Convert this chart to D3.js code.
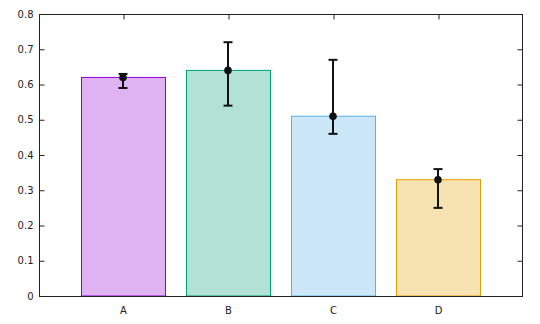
<!DOCTYPE html>
<html>
<head>
<meta charset="utf-8">
<script src="https://cdn.jsdelivr.net/npm/d3@7"></script>
<style>
  html, body { margin: 0; padding: 0; background: #fff; }
  svg { display: block; }
  text { font-family: "DejaVu Sans", sans-serif; font-size: 10px; fill: #222; }
</style>
</head>
<body>
<svg id="chart" width="540" height="324"></svg>
<script>
// Bar heights with the measured point and its error range
const categories = ["A", "B", "C", "D"];
const values = [0.62, 0.64, 0.51, 0.33];
const errLow = [0.59, 0.54, 0.46, 0.25];
const errHigh = [0.63, 0.72, 0.67, 0.36];
const colors = ["#9400d3", "#009e73", "#56b4e9", "#e69f00"];
const yTicks = [0, 0.1, 0.2, 0.3, 0.4, 0.5, 0.6, 0.7, 0.8];

const svg = d3.select("#chart");
const plotLeft = 39, plotRight = 522, plotTop = 14, plotBottom = 296;

// Category index -> pixel, with 0.8 units of padding on each side
const x = d3.scaleLinear().domain([-0.8, categories.length - 0.2]).range([plotLeft, plotRight]);
const y = d3.scaleLinear().domain([0, 0.8]).range([plotBottom, plotTop]);
const barW = x(0.4) - x(-0.4);

// Bars: translucent fill with solid outline
svg.append("g").selectAll("rect")
  .data(values)
  .join("rect")
  .attr("x", (d, i) => x(i) - barW / 2 + 0.5)
  .attr("y", d => y(d))
  .attr("width", barW)
  .attr("height", d => y(0) - y(d))
  .attr("fill", (d, i) => colors[i])
  .attr("fill-opacity", 0.3)
  .attr("stroke", (d, i) => colors[i])
  .attr("stroke-width", 1);

// Frame
const frame = svg.append("g").attr("fill", "none").attr("stroke", "#222").attr("stroke-width", 1);
frame.append("rect")
  .attr("x", plotLeft + 0.5).attr("y", plotTop + 0.5)
  .attr("width", plotRight - plotLeft).attr("height", plotBottom - plotTop);

// Y axis on the left with inward ticks, mirrored on the right
const yAxisL = d3.axisLeft(y).tickValues(yTicks).tickFormat(d => d === 0 ? "0" : d3.format(".1f")(d))
  .tickSizeInner(-5).tickSizeOuter(0).tickPadding(6);
const gL = svg.append("g").attr("transform", `translate(${plotLeft + 0.5},0)`).call(yAxisL);
gL.select(".domain").remove();
gL.selectAll("line").attr("stroke", "#222");
gL.selectAll("text").attr("font-family", "DejaVu Sans, sans-serif").attr("font-size", 10).attr("fill", "#222").attr("x", -6);

const yAxisR = d3.axisRight(y).tickValues(yTicks).tickFormat("").tickSizeInner(-5).tickSizeOuter(0);
const gR = svg.append("g").attr("transform", `translate(${plotRight + 0.5},0)`).call(yAxisR);
gR.select(".domain").remove();
gR.selectAll("line").attr("stroke", "#222");

// X axis labels below, mirrored ticks along the top
const xAxisB = d3.axisBottom(x).tickValues(d3.range(categories.length)).tickFormat(i => categories[i])
  .tickSize(0).tickPadding(10);
const gB = svg.append("g").attr("transform", `translate(0,${plotBottom + 0.5})`).call(xAxisB);
gB.select(".domain").remove();
gB.selectAll("text").attr("font-family", "DejaVu Sans, sans-serif").attr("font-size", 10).attr("fill", "#222");

const xAxisT = d3.axisTop(x).tickValues(d3.range(categories.length)).tickFormat("").tickSizeInner(-5).tickSizeOuter(0);
const gT = svg.append("g").attr("transform", `translate(0.5,${plotTop + 0.5})`).call(xAxisT);
gT.select(".domain").remove();
gT.selectAll("line").attr("stroke", "#222");

// Error bars with caps and a filled point
const err = svg.append("g").attr("stroke", "#111").attr("stroke-width", 2);
categories.forEach((c, i) => {
  const cx = x(i);
  err.append("line").attr("x1", cx).attr("x2", cx).attr("y1", y(errLow[i])).attr("y2", y(errHigh[i]));
  err.append("line").attr("x1", cx - 4.5).attr("x2", cx + 4.5).attr("y1", y(errLow[i])).attr("y2", y(errLow[i]));
  err.append("line").attr("x1", cx - 4.5).attr("x2", cx + 4.5).attr("y1", y(errHigh[i])).attr("y2", y(errHigh[i]));
});
svg.append("g").selectAll("circle")
  .data(values)
  .join("circle")
  .attr("cx", (d, i) => x(i))
  .attr("cy", d => y(d))
  .attr("r", 3.8)
  .attr("fill", "#111");
</script>
</body>
</html>
